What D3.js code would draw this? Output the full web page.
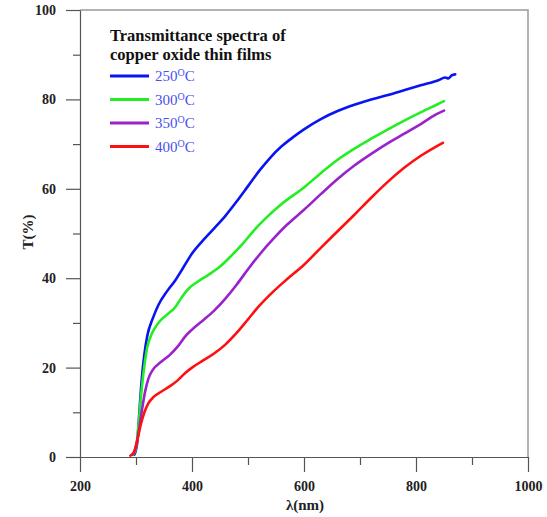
<!DOCTYPE html>
<html><head><meta charset="utf-8">
<script src="https://cdn.jsdelivr.net/npm/d3@7"></script>
<style>body{margin:0;background:#fff}</style>
</head><body>
<svg id="c" width="547" height="517"></svg>
<script>
const xMajorTicks = [200, 400, 600, 800, 1000];
const xMinorTicks = [300, 500, 700, 900];
const yMajorTicks = [0, 20, 40, 60, 80, 100];
const yMinorTicks = [10, 30, 50, 70, 90];
const seriesNames = ["250", "300", "350", "400"];
const seriesColors = ["#0a14f0", "#22ee22", "#9a22cc", "#ff1010"];
const titleLines = ["Transmittance spectra of", "copper oxide thin films"];

const t250 = [[297,0.5],[302,3],[306,10],[310,17],[315,23],[320,27],[330,31],[340,34],[355,37],[370,39.5],[385,42.5],[400,45.5],[420,48.5],[440,51.2],[460,54],[480,57.2],[500,60.6],[520,64],[540,67],[560,69.5],[580,71.5],[600,73.3],[630,75.6],[660,77.4],[690,78.8],[720,80],[750,81],[780,82.1],[810,83.2],[840,84.3],[852,84.9],[858,84.7],[864,85.4],[870,85.6]];
const t300 = [[295,0.5],[300,2],[305,8],[310,15],[315,20.5],[320,24.5],[328,27.5],[340,30],[355,31.8],[370,33.5],[382,35.8],[395,37.8],[410,39.2],[430,40.8],[450,42.6],[470,45],[490,47.6],[510,50.6],[530,53.2],[560,56.6],[600,60.3],[630,63.5],[660,66.5],[690,69],[720,71.2],[750,73.3],[780,75.3],[810,77.2],[835,78.7],[850,79.6]];
const t350 = [[293,0.5],[298,1.5],[304,5],[310,10],[316,14.5],[322,17.5],[330,19.5],[345,21.3],[360,22.8],[375,24.8],[388,27],[400,28.5],[420,30.6],[440,32.8],[460,35.5],[480,38.6],[500,42],[520,45.2],[545,48.8],[570,52],[600,55.3],[630,58.8],[660,62.2],[690,65.2],[720,67.8],[750,70.2],[780,72.4],[810,74.6],[835,76.6],[850,77.5]];
const t400 = [[290,0.3],[296,1],[302,3.5],[308,7],[315,10],[322,12],[332,13.5],[345,14.6],[360,15.8],[375,17.2],[388,18.8],[400,20],[420,21.6],[440,23.2],[460,25.2],[480,27.8],[500,30.8],[520,33.8],[545,37],[570,39.8],[600,43],[630,46.8],[660,50.5],[690,54.2],[720,58],[750,61.6],[780,64.8],[810,67.5],[835,69.4],[848,70.3]];
const seriesData = [t250, t300, t350, t400];

const svg = d3.select("#c");
const x = d3.scaleLinear().domain([200, 1000]).range([80, 528]);
const y = d3.scaleLinear().domain([0, 100]).range([457, 10]);
const font = "'Liberation Serif','Times New Roman',serif";

// frame (top/right)
svg.append("path").attr("d", `M${x(200)},${y(100)}H${x(1000)}V${y(0)}`)
  .attr("fill","none").attr("stroke","#999").attr("stroke-width",1.5);

// axes
const gx = svg.append("g").attr("transform", `translate(0,${y(0)})`)
  .call(d3.axisBottom(x).tickValues(xMajorTicks).tickFormat(d3.format("d")).tickSize(15).tickSizeOuter(0).tickPadding(4));
svg.append("g").attr("transform", `translate(0,${y(0)})`)
  .call(d3.axisBottom(x).tickValues(xMinorTicks).tickSize(8).tickFormat("").tickSizeOuter(0))
  .select(".domain").remove();
const gy = svg.append("g").attr("transform", `translate(${x(200)},0)`)
  .call(d3.axisLeft(y).tickValues(yMajorTicks).tickFormat(d3.format("d")).tickSize(14).tickSizeOuter(0).tickPadding(10));
svg.append("g").attr("transform", `translate(${x(200)},0)`)
  .call(d3.axisLeft(y).tickValues(yMinorTicks).tickSize(7).tickFormat("").tickSizeOuter(0))
  .select(".domain").remove();
svg.selectAll(".domain, .tick line").attr("stroke","#555").attr("stroke-width",1.2);
svg.selectAll(".tick text").attr("font-family", font).attr("font-weight","bold")
  .attr("font-size", 14).attr("fill","#222");
gx.selectAll(".tick text").attr("dy","1.1em");

// axis titles
svg.append("text").attr("x", 305).attr("y", 510).attr("text-anchor","middle")
  .attr("font-family", font).attr("font-weight","bold").attr("font-size",15).attr("fill","#222").text("λ(nm)");
svg.append("text").attr("transform","translate(33,232) rotate(-90)").attr("text-anchor","middle")
  .attr("font-family", font).attr("font-weight","bold").attr("font-size",15).attr("fill","#222").text("T(%)");

// lines
const line = d3.line().x(d => x(d[0])).y(d => y(d[1])).curve(d3.curveMonotoneX);
seriesData.forEach((s, i) => {
  svg.append("path").datum(s).attr("d", line).attr("fill","none")
    .attr("stroke", seriesColors[i]).attr("stroke-width", 2.6)
    .attr("stroke-linejoin","round").attr("stroke-linecap","round");
});

// legend title
titleLines.forEach((t, i) => {
  svg.append("text").attr("x", 110).attr("y", 41 + i*19)
    .attr("font-family", font).attr("font-weight","bold").attr("font-size",16.5).attr("fill","#111").text(t);
});
// legend entries
seriesNames.forEach((n, i) => {
  const ly = 76 + i*23.5;
  svg.append("line").attr("x1",110).attr("x2",149).attr("y1",ly).attr("y2",ly)
    .attr("stroke", seriesColors[i]).attr("stroke-width",3);
  const t = svg.append("text").attr("x",155).attr("y",ly+5)
    .attr("font-family", font).attr("font-size",15).attr("fill","#4a4ff0");
  t.append("tspan").text(n);
  t.append("tspan").attr("dy",-5).attr("font-size",10).text("O");
  t.append("tspan").attr("dy",5).text("C");
});
</script>
</body></html>
